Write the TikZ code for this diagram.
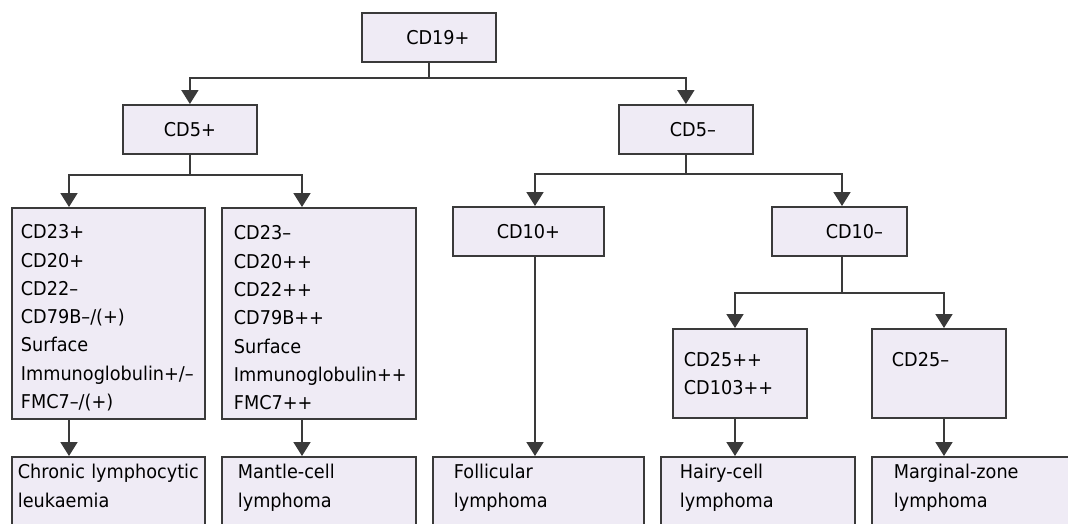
\documentclass[tikz,border=0pt]{standalone}
\usepackage{fontspec}
\setmainfont{DejaVu Sans}[FakeStretch=0.93]
\usetikzlibrary{arrows.meta, positioning, calc}
\definecolor{colBox}{HTML}{EFEBF5}
\definecolor{colEdge}{HTML}{3A3A3A}

\begin{document}
\begin{tikzpicture}[
    x=1pt, y=-1pt,
    >={Triangle[width=17pt, length=14pt]},
    basebox/.style={
        rectangle, draw=colEdge, fill=colBox,
        line width=1.8pt, inner xsep=0pt, inner ysep=0pt,
        anchor=north west, align=left,
        font=\fontsize{19}{28.3}\selectfont
    },
    markerbox/.style={basebox, minimum height=49pt, align=center},
    listbox/.style={basebox, minimum height=211pt, text height=23pt},
    pairbox/.style={basebox, minimum width=134pt, minimum height=89pt},
    resultbox/.style={basebox, inner ysep=8pt, text height=14pt, text depth=70pt},
    link/.style={->, line width=1.8pt, color=colEdge}
]
    \useasboundingbox (0,0) rectangle (1068,523);
    \clip (0,0) rectangle (1068,523);

    % --- columns of the vertical arrows ---
    \coordinate (colCll)  at (69,0);
    \coordinate (colMcl)  at (302,0);
    \coordinate (colFl)   at (535,0);
    \coordinate (colCd10) at (842,0);
    \coordinate (colHcl)  at (735,0);
    \coordinate (colMzl)  at (944,0);

    % --- ROOT ---
    \node[markerbox, minimum width=134pt] (cd19) at (361,12) {\hspace*{18pt}CD19+};

    % --- CD5 ---
    \node[markerbox, minimum width=134pt] (cd5pos) at (122,104) {CD5+};
    \node[markerbox, minimum width=134pt] (cd5neg) at (618,104) {\hspace*{14pt}CD5–};

    % --- CD5+ marker lists, CD10 ---
    \node[listbox, minimum width=193pt, text width=175pt] (cllmarks) at (11,207)
        {CD23+\\CD20+\\CD22–\\CD79B–/(+)\\Surface\\Immunoglobulin+/–\\FMC7–/(+)};
    \node[listbox, minimum width=194pt, text width=170pt] (mclmarks) at (221,207)
        {CD23–\\CD20++\\CD22++\\CD79B++\\Surface\\Immunoglobulin++\\FMC7++};
    \node[markerbox, minimum width=151pt] (cd10pos) at (452,206) {CD10+};
    \node[markerbox, minimum width=135pt] (cd10neg) at (771,206) {\hspace*{30pt}CD10–};

    % --- CD25 ---
    \node[pairbox, text width=112pt] (cd25pos) at (672,328) {CD25++\\CD103++};
    \node[pairbox, text width=94pt] (cd25neg) at (871,328) {CD25–\\\mbox{}};

    % --- DIAGNOSES (cut off at the bottom) ---
    \node[resultbox, minimum width=193pt, text width=181pt] (cll) at (11,456)
        {Chronic lymphocytic\\leukaemia};
    \node[resultbox, minimum width=194pt, text width=162pt] (mcl) at (221,456)
        {Mantle-cell\\lymphoma};
    \node[resultbox, minimum width=211pt, text width=169pt] (fl) at (432,456)
        {Follicular\\lymphoma};
    \node[resultbox, minimum width=194pt, text width=156pt] (hcl) at (660,456)
        {Hairy-cell\\lymphoma};
    \node[resultbox, minimum width=220pt, text width=176pt] (mzl) at (871,456)
        {Marginal-zone\\lymphoma};

    % --- ARROWS ---
    \draw[link] (cd19.south) -- ++(0,15) coordinate (fork19) -| (cd5pos.north);
    \draw[link] (fork19) -| (cd5neg.north);

    \draw[link] (cd5pos.south) -- ++(0,20) coordinate (fork5p) -| (cllmarks.north -| colCll);
    \draw[link] (fork5p) -| (mclmarks.north -| colMcl);

    \draw[link] (cd5neg.south) -- ++(0,19) coordinate (fork5n) -| (cd10pos.north -| colFl);
    \draw[link] (fork5n) -| (cd10neg.north -| colCd10);

    \draw[link] (cd10neg.south -| colCd10) -- ++(0,36) coordinate (fork10n) -| (cd25pos.north -| colHcl);
    \draw[link] (fork10n) -| (cd25neg.north -| colMzl);

    \draw[link] (cllmarks.south -| colCll) -- (cll.north -| colCll);
    \draw[link] (mclmarks.south -| colMcl) -- (mcl.north -| colMcl);
    \draw[link] (cd10pos.south -| colFl) -- (fl.north -| colFl);
    \draw[link] (cd25pos.south -| colHcl) -- (hcl.north -| colHcl);
    \draw[link] (cd25neg.south -| colMzl) -- (mzl.north -| colMzl);

\end{tikzpicture}
\end{document}
